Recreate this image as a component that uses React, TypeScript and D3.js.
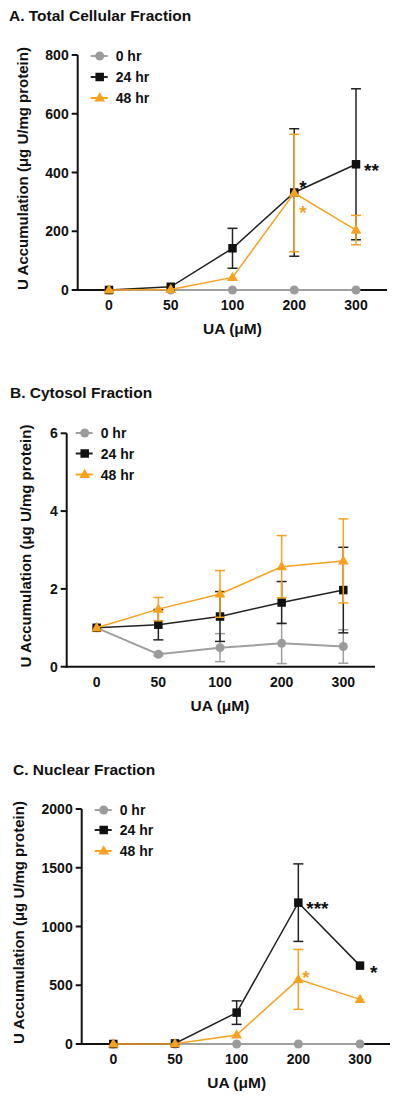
import React from "react";
import * as d3 from "d3";

// ---------- DATA ----------
const categories = ["0", "50", "100", "200", "300"];
const seriesNames = ["0 hr", "24 hr", "48 hr"];

// A. Total Cellular Fraction
const totalMean0 = [0, 0, 0, 0, 0];
const totalErr0 = [0, 0, 0, 0, 0];
const totalMean24 = [0, 11, 142, 332, 428];
const totalErr24 = [0, 0, 68, 217, 257];
const totalMean48 = [0, 2, 43, 330, 204];
const totalErr48 = [0, 0, 0, 200, 50];
const totalStars24 = ["", "", "", "*", "**"];
const totalStars48 = ["", "", "", "*", ""];
const totalTicks = [0, 200, 400, 600, 800];

// B. Cytosol Fraction
const cytoMean0 = [1.0, 0.32, 0.49, 0.6, 0.52];
const cytoErr0 = [0, 0.04, 0.36, 0.52, 0.43];
const cytoMean24 = [1.0, 1.08, 1.29, 1.65, 1.97];
const cytoErr24 = [0, 0.39, 0.64, 0.54, 1.1];
const cytoMean48 = [1.0, 1.48, 1.87, 2.57, 2.72];
const cytoErr48 = [0, 0.3, 0.6, 0.8, 1.08];
const cytoStars24 = ["", "", "", "", ""];
const cytoStars48 = ["", "", "", "", ""];
const cytoTicks = [0, 2, 4, 6];

// C. Nuclear Fraction
const nucMean0 = [0, 0, 0, 0, 0];
const nucErr0 = [0, 0, 0, 0, 0];
const nucMean24 = [0, 5, 267, 1203, 667];
const nucErr24 = [0, 0, 100, 330, 0];
const nucMean48 = [0, 2, 77, 550, 380];
const nucErr48 = [0, 0, 0, 255, 0];
const nucStars24 = ["", "", "", "***", "*"];
const nucStars48 = ["", "", "", "*", ""];
const nucTicks = [0, 500, 1000, 1500, 2000];

// ---------- STYLE ----------
const FONT = "'Liberation Sans', Arial, Helvetica, sans-serif";
const GRAY = "#9b9b9b";
const BLACK = "#111";
const ORANGE = "#f7a11f";
const seriesColors = [GRAY, BLACK, ORANGE];
const lineColors = ["#a0a0a0", "#222", ORANGE];
const shapes = ["circle", "square", "triangle"];

type PanelProps = {
  title: string;
  titleX: number;
  titleY: number;
  axisX: number;
  top: number;
  bottom: number;
  xFirst: number;
  xLast: number;
  axisEnd: number;
  yMax: number;
  ticks: number[];
  means: number[][];
  errs: number[][];
  stars: string[][];
  starOffsets: Record<string, [number, number]>;
  legendDx: number;
  legendRows: number[];
  yLabelX: number;
};

function Marker({ shape, x, y, color }: { shape: string; x: number; y: number; color: string }) {
  if (shape === "circle") return <circle cx={x} cy={y} r={4.5} fill={color} />;
  if (shape === "square") {
    const s = 8.5;
    return <rect x={x - s / 2} y={y - s / 2} width={s} height={s} fill={color} />;
  }
  const sym = d3.symbol().type(d3.symbolTriangle).size(50)();
  return <path d={sym as string} transform={`translate(${x},${y + 0.5})`} fill={color} />;
}

function Panel(p: PanelProps) {
  const x = d3.scalePoint<string>().domain(categories).range([p.xFirst, p.xLast]);
  const y = d3.scaleLinear().domain([0, p.yMax]).range([p.bottom, p.top]);
  const line = d3
    .line<number>()
    .x((_, i) => x(categories[i]) as number)
    .y((d) => y(d));
  const midY = (p.top + p.bottom) / 2 - 4;
  return (
    <g>
      <text x={p.titleX} y={p.titleY} fontFamily={FONT} fontWeight="bold" fontSize={15.5} fill="#111">
        {p.title}
      </text>
      {/* axes */}
      <line x1={p.axisX} x2={p.axisX} y1={p.top} y2={p.bottom + 1} stroke="#111" strokeWidth={2} />
      <line x1={p.axisX - 1} x2={p.axisEnd} y1={p.bottom} y2={p.bottom} stroke="#111" strokeWidth={2} />
      {p.ticks.map((t) => (
        <g key={t}>
          <line x1={p.axisX - 6} x2={p.axisX} y1={y(t)} y2={y(t)} stroke="#111" strokeWidth={2} />
          <text
            x={p.axisX - 9}
            y={y(t) + 5}
            textAnchor="end"
            fontFamily={FONT}
            fontWeight="bold"
            fontSize={14}
            fill="#111"
          >
            {t}
          </text>
        </g>
      ))}
      {categories.map((c) => (
        <text
          key={c}
          x={x(c)}
          y={p.bottom + 20}
          textAnchor="middle"
          fontFamily={FONT}
          fontWeight="bold"
          fontSize={14}
          fill="#111"
        >
          {c}
        </text>
      ))}
      <text
        x={(p.xFirst + p.xLast) / 2}
        y={p.bottom + 44}
        textAnchor="middle"
        fontFamily={FONT}
        fontWeight="bold"
        fontSize={15.5}
        fill="#111"
      >
        UA (μM)
      </text>
      <text
        transform={`translate(${p.yLabelX + 5.5},${midY}) rotate(-90)`}
        textAnchor="middle"
        fontFamily={FONT}
        fontWeight="bold"
        fontSize={15}
        fill="#111"
      >
        U Accumulation (μg U/mg protein)
      </text>
      {/* series */}
      {p.means.map((m, si) => (
        <g key={si}>
          <path d={line(m) as string} fill="none" stroke={lineColors[si]} strokeWidth={si === 0 ? 2 : 1.5} />
          {m.map((v, i) => {
            const e = p.errs[si][i];
            if (!e) return null;
            const cx = x(categories[i]) as number;
            const lo = Math.max(0, v - e);
            return (
              <g key={i} stroke={lineColors[si]} strokeWidth={1.5}>
                <line x1={cx} x2={cx} y1={y(v + e)} y2={y(lo)} />
                <line x1={cx - 5} x2={cx + 5} y1={y(v + e)} y2={y(v + e)} />
                <line x1={cx - 5} x2={cx + 5} y1={y(lo)} y2={y(lo)} />
              </g>
            );
          })}
          {m.map((v, i) => (
            <Marker key={i} shape={shapes[si]} x={x(categories[i]) as number} y={y(v)} color={seriesColors[si]} />
          ))}
        </g>
      ))}
      {/* significance stars */}
      {p.stars.map((arr, si) =>
        arr.map((s, i) => {
          if (!s) return null;
          const key = `${si + 1}-${i}`;
          const off = p.starOffsets[key] || [8, 0];
          const sx = (x(categories[i]) as number) + off[0];
          const sy = y(p.means[si + 1][i]) + off[1];
          return (
            <text
              key={key}
              x={sx}
              y={sy + 12}
              fontFamily={FONT}
              fontWeight="bold"
              fontSize={19}
              fill={seriesColors[si + 1]}
            >
              {s}
            </text>
          );
        })
      )}
      {/* legend */}
      {seriesNames.map((n, si) => {
        const ly = p.legendRows[si];
        const mx = p.axisX + p.legendDx;
        return (
          <g key={n}>
            <line x1={mx - 9} x2={mx + 8} y1={ly} y2={ly} stroke={lineColors[si]} strokeWidth={2} />
            <Marker shape={shapes[si]} x={mx} y={ly} color={seriesColors[si]} />
            <text x={mx + 16} y={ly + 5} fontFamily={FONT} fontWeight="bold" fontSize={14} fill="#111">
              {n}
            </text>
          </g>
        );
      })}
    </g>
  );
}

export default function App() {
  return (
    <svg
      width={400}
      height={1100}
      style={{ position: "absolute", left: 0, top: 0, background: "#fff" }}
    >
      <rect width={400} height={1100} fill="#fff" />
      <Panel
        title="A. Total Cellular Fraction"
        titleX={9}
        titleY={21}
        axisX={77.7}
        top={55}
        bottom={290}
        xFirst={109}
        xLast={356}
        axisEnd={387}
        yMax={800}
        ticks={totalTicks}
        means={[totalMean0, totalMean24, totalMean48]}
        errs={[totalErr0, totalErr24, totalErr48]}
        stars={[totalStars24, totalStars48]}
        starOffsets={{ "1-3": [5, -10], "1-4": [8, 1], "2-3": [5, 14] }}
        legendDx={22}
        legendRows={[56, 77, 98]}
        yLabelX={22}
      />
      <Panel
        title="B. Cytosol Fraction"
        titleX={10}
        titleY={398}
        axisX={66.7}
        top={433.3}
        bottom={666.7}
        xFirst={96.7}
        xLast={343.3}
        axisEnd={375}
        yMax={6}
        ticks={cytoTicks}
        means={[cytoMean0, cytoMean24, cytoMean48]}
        errs={[cytoErr0, cytoErr24, cytoErr48]}
        stars={[cytoStars24, cytoStars48]}
        starOffsets={{}}
        legendDx={18}
        legendRows={[433, 453.5, 474.5]}
        yLabelX={25}
      />
      <Panel
        title="C. Nuclear Fraction"
        titleX={13}
        titleY={775}
        axisX={81.7}
        top={809}
        bottom={1044}
        xFirst={113.3}
        xLast={360}
        axisEnd={390}
        yMax={2000}
        ticks={nucTicks}
        means={[nucMean0, nucMean24, nucMean48]}
        errs={[nucErr0, nucErr24, nucErr48]}
        stars={[nucStars24, nucStars48]}
        starOffsets={{ "1-3": [8, 0], "1-4": [10, 1], "2-3": [4, -7] }}
        legendDx={22}
        legendRows={[810, 830, 851]}
        yLabelX={18}
      />
    </svg>
  );
}
